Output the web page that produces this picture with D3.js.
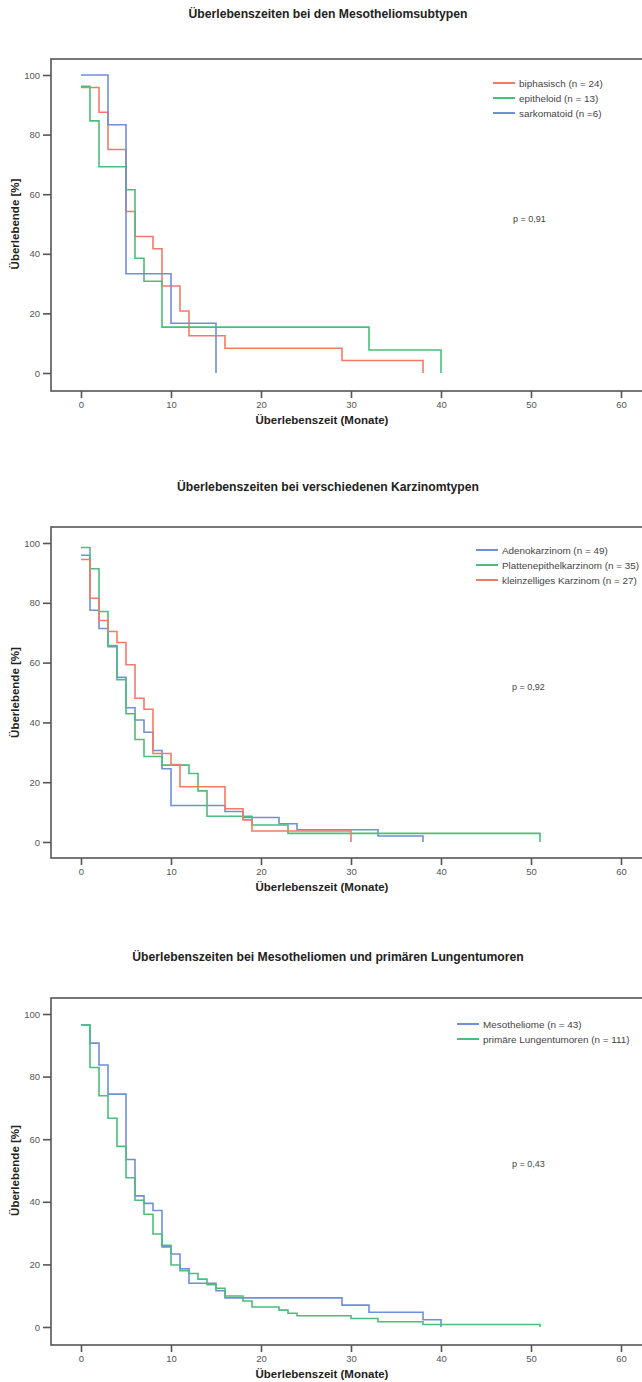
<!DOCTYPE html>
<html>
<head>
	<meta charset="utf-8">
	<title>Überlebenszeiten</title>
	<script src="https://d3js.org/d3.v7.min.js"></script>
	<style>
		body { margin: 0; background: #fff; }
		text { font-family: 'Liberation Sans', Arial, sans-serif; }
	</style>
</head>
<body>
	<div class="chart"></div>

	<script type="text/javascript">
		// Kaplan-Meier Stufen: Zeit (Monate) und Überlebende (%)
		const bipT = [0, 2, 3, 5, 6, 8, 9, 11, 12, 16, 29, 38]
		const bipS = [95.8, 87.5, 75, 54.2, 45.8, 41.7, 29.2, 20.8, 12.5, 8.3, 4.2, 0]
		const epiT = [0, 1, 2, 5, 6, 7, 9, 32, 40]
		const epiS = [96.2, 84.6, 69.2, 61.5, 38.5, 30.8, 15.4, 7.7, 0]
		const sarT = [0, 3, 5, 10, 15]
		const sarS = [100, 83.3, 33.3, 16.7, 0]

		const adeT = [0, 1, 2, 3, 4, 5, 6, 7, 8, 9, 10, 16, 18, 22, 24, 33, 38]
		const adeS = [95.9, 77.5, 71.4, 65.3, 55.1, 44.9, 40.8, 36.7, 30.6, 24.5, 12.2, 10.2, 8.2, 6.1, 4.1, 2.0, 0]
		const plaT = [0, 1, 2, 3, 4, 5, 6, 7, 9, 12, 13, 14, 19, 23, 51]
		const plaS = [98.5, 91.4, 77.1, 65.7, 54.3, 42.9, 34.3, 28.6, 25.7, 22.9, 17.1, 8.6, 5.7, 2.9, 0]
		const klzT = [0, 1, 2, 3, 4, 5, 6, 7, 8, 10, 11, 16, 18, 19, 30]
		const klzS = [94.5, 81.5, 74.1, 70.4, 66.7, 59.3, 48.1, 44.4, 29.6, 25.9, 18.5, 11.1, 7.4, 3.7, 0]

		const mesT = [0, 1, 2, 3, 5, 6, 7, 8, 9, 10, 11, 12, 15, 16, 29, 32, 38, 40]
		const mesS = [96.5, 90.7, 83.7, 74.4, 53.5, 41.9, 39.5, 37.2, 25.6, 23.3, 18.6, 14.0, 11.6, 9.3, 7.0, 4.7, 2.3, 0]
		const lunT = [0, 1, 2, 3, 4, 5, 6, 7, 8, 9, 10, 11, 12, 13, 14, 15, 16, 18, 19, 22, 23, 24, 30, 33, 38, 51]
		const lunS = [96.5, 82.9, 73.9, 66.7, 57.7, 47.7, 40.5, 36.0, 29.7, 26.1, 19.8, 18.0, 17.1, 15.3, 13.5, 12.4, 9.9, 8.3, 6.4, 5.4, 4.4, 3.6, 2.7, 1.7, 0.8, 0]

		const xTicks = [0, 10, 20, 30, 40, 50, 60]
		const yTicks = [0, 20, 40, 60, 80, 100]

		const titles = [
			'Überlebenszeiten bei den Mesotheliomsubtypen',
			'Überlebenszeiten bei verschiedenen Karzinomtypen',
			'Überlebenszeiten bei Mesotheliomen und primären Lungentumoren'
		]
		const pValues = ['p = 0,91', 'p = 0,92', 'p = 0,43']

		const RED = '#f47a68'
		const GREEN = '#4cbd7c'
		const BLUE = '#6f8fd6'

		const width = 642
		const height = 1382

		const svg = d3.select('.chart').append('svg')
			.attr('width', width)
			.attr('height', height)

		const xScale = d3.scaleLinear()
			.domain([0, 60])
			.range([81, 621])

		const zip = (t, s) => t.map((d, i) => ({ t: d, s: s[i] }))

		const panels = [
			{
				title: titles[0], p: pValues[0], titleY: 18,
				top: 59, y100: 75, y0: 373, bottom: 391,
				legendX: 493, legendY: 83, pX: 513, pY: 222,
				series: [
					{ name: 'biphasisch (n = 24)', color: RED, data: zip(bipT, bipS) },
					{ name: 'epitheloid (n = 13)', color: GREEN, data: zip(epiT, epiS) },
					{ name: 'sarkomatoid (n =6)', color: BLUE, data: zip(sarT, sarS) }
				]
			},
			{
				title: titles[1], p: pValues[1], titleY: 491,
				top: 527, y100: 543, y0: 842, bottom: 858,
				legendX: 476, legendY: 550, pX: 512, pY: 690,
				series: [
					{ name: 'Adenokarzinom (n = 49)', color: BLUE, data: zip(adeT, adeS) },
					{ name: 'Plattenepithelkarzinom (n = 35)', color: GREEN, data: zip(plaT, plaS) },
					{ name: 'kleinzelliges Karzinom (n = 27)', color: RED, data: zip(klzT, klzS) }
				]
			},
			{
				title: titles[2], p: pValues[2], titleY: 961,
				top: 998, y100: 1014, y0: 1327, bottom: 1345,
				legendX: 457, legendY: 1024, pX: 512, pY: 1167,
				series: [
					{ name: 'Mesotheliome (n = 43)', color: BLUE, data: zip(mesT, mesS) },
					{ name: 'primäre Lungentumoren (n = 111)', color: GREEN, data: zip(lunT, lunS) }
				]
			}
		]

		panels.forEach(p => {
			const yScale = d3.scaleLinear()
				.domain([0, 100])
				.range([p.y0, p.y100])

			const g = svg.append('g')

			// Titel
			g.append('text')
				.attr('x', 328)
				.attr('y', p.titleY)
				.attr('text-anchor', 'middle')
				.attr('font-size', 12.2)
				.attr('font-weight', 'bold')
				.attr('fill', '#222')
				.text(p.title)

			// Rahmen
			g.append('rect')
				.attr('x', 51)
				.attr('y', p.top)
				.attr('width', 640)
				.attr('height', p.bottom - p.top)
				.attr('fill', 'none')
				.attr('stroke', '#555')
				.attr('stroke-width', 1.6)

			const xAxis = g.append('g')
				.attr('transform', `translate(0, ${p.bottom})`)
				.call(d3.axisBottom(xScale).tickValues(xTicks).tickSize(7).tickPadding(3))
			const yAxis = g.append('g')
				.attr('transform', 'translate(51, 0)')
				.call(d3.axisLeft(yScale).tickValues(yTicks).tickSize(8).tickPadding(3))

			;[xAxis, yAxis].forEach(a => {
				a.select('.domain').remove()
				a.selectAll('line').attr('stroke', '#555').attr('stroke-width', 1.6)
				a.selectAll('text')
					.attr('fill', '#555')
					.attr('font-size', 9.5)
					.style('font-family', "'Liberation Sans', Arial, sans-serif")
			})

			// Achsentitel
			g.append('text')
				.attr('x', 322)
				.attr('y', p.bottom + 33)
				.attr('text-anchor', 'middle')
				.attr('font-size', 11.5)
				.attr('font-weight', 'bold')
				.attr('fill', '#222')
				.text('Überlebenszeit (Monate)')

			g.append('text')
				.attr('transform', `translate(19, ${(p.y0 + p.y100) / 2}) rotate(-90)`)
				.attr('text-anchor', 'middle')
				.attr('font-size', 11.5)
				.attr('font-weight', 'bold')
				.attr('fill', '#222')
				.text('Überlebende [%]')

			const line = d3.line()
				.x(d => xScale(d.t))
				.y(d => yScale(d.s))
				.curve(d3.curveStepAfter)

			p.series.forEach(s => {
				g.append('path')
					.attr('d', line(s.data))
					.attr('fill', 'none')
					.attr('stroke', s.color)
					.attr('stroke-width', 1.6)
			})

			// Legende
			p.series.forEach((s, i) => {
				const y = p.legendY + i * 15
				g.append('line')
					.attr('x1', p.legendX)
					.attr('x2', p.legendX + 22)
					.attr('y1', y)
					.attr('y2', y)
					.attr('stroke', s.color)
					.attr('stroke-width', 2)
				g.append('text')
					.attr('x', p.legendX + 26)
					.attr('y', y + 3.5)
					.attr('font-size', 9.9)
					.attr('fill', '#444')
					.text(s.name)
			})

			g.append('text')
				.attr('x', p.pX)
				.attr('y', p.pY)
				.attr('font-size', 9)
				.attr('fill', '#444')
				.text(p.p)
		})
	</script>
</body>
</html>
